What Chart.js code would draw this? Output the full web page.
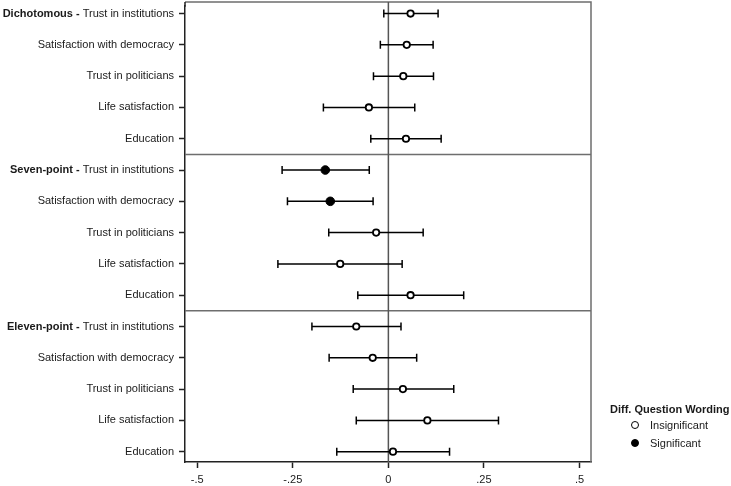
<!DOCTYPE html>
<html>
<head>
<meta charset="utf-8">
<script src="https://cdn.jsdelivr.net/npm/chart.js@4"></script>
<style>
  body { margin: 0; background: #fff; }
  #wrap { position: relative; width: 731px; height: 486px; }
  .leg { position: absolute; font-family: "Liberation Sans", Arial, sans-serif; font-size: 11px; color: #1a1a1a; white-space: nowrap; line-height: 13px; }
  .leg b { font-weight: bold; }
  .dot { position: absolute; width: 6px; height: 6px; border: 1.8px solid #000; border-radius: 50%; }
</style>
</head>
<body>
<div id="wrap">
  <canvas id="chart" width="731" height="486"></canvas>
  <div class="leg" style="left:610px; top:403px;"><b>Diff. Question Wording</b></div>
  <span class="dot" style="left:631px; top:421px; background:#fff;"></span>
  <div class="leg" style="left:650px; top:419px;">Insignificant</div>
  <span class="dot" style="left:631px; top:439px; background:#000;"></span>
  <div class="leg" style="left:650px; top:437px;">Significant</div>
</div>
<script>
// categories and groups (rows top to bottom: group by group)
const groups = ['Dichotomous', 'Seven-point', 'Eleven-point'];
const categories = ['Trust in institutions', 'Satisfaction with democracy', 'Trust in politicians', 'Life satisfaction', 'Education'];

// point estimates and confidence bounds, one per row
const estimates = [0.058, 0.048, 0.039, -0.051, 0.046,
                   -0.165, -0.152, -0.032, -0.126, 0.058,
                   -0.084, -0.041, 0.038, 0.102, 0.012];
const lower = [-0.012, -0.021, -0.039, -0.170, -0.046,
               -0.278, -0.264, -0.156, -0.289, -0.080,
               -0.200, -0.155, -0.092, -0.084, -0.135];
const upper = [0.130, 0.117, 0.118, 0.069, 0.138,
               -0.050, -0.040, 0.091, 0.036, 0.197,
               0.033, 0.074, 0.171, 0.288, 0.160];
const significant = [false, false, false, false, false,
                     true, true, false, false, false,
                     false, false, false, false, false];
const xTicks = [-0.5, -0.25, 0, 0.25, 0.5];

const FONT = '"Liberation Sans", Arial, sans-serif';
const rows = [];
groups.forEach(g => categories.forEach(c => rows.push({ group: g, cat: c })));
const FRAME_TOP = -0.37; // value at the top edge of the frame

// error bars: one line dataset per row, caps drawn as rotated line points
const barSets = rows.map((r, i) => ({
    data: [{ x: lower[i], y: i }, { x: upper[i], y: i }],
    showLine: true,
    borderColor: '#000',
    borderWidth: 1.5,
    pointStyle: 'line',
    rotation: 90,
    pointRadius: 4,
    pointBorderColor: '#000',
    pointBorderWidth: 1.5,
    order: 2
}));

const insig = [], sig = [];
estimates.forEach((v, i) => (significant[i] ? sig : insig).push({ x: v, y: i }));

const framePlugin = {
    id: 'frame',
    beforeDatasetsDraw(chart) {
        const { ctx, chartArea: a, scales } = chart;
        const top = scales.y.getPixelForValue(FRAME_TOP);
        ctx.save();
        ctx.strokeStyle = '#6e6e6e';
        ctx.lineWidth = 1.5;
        // group separators
        [4.5, 9.5].forEach(v => {
            const y = scales.y.getPixelForValue(v);
            ctx.beginPath(); ctx.moveTo(a.left, y); ctx.lineTo(a.right, y); ctx.stroke();
        });
        // top and right frame
        ctx.beginPath();
        ctx.moveTo(a.left, top); ctx.lineTo(a.right, top); ctx.lineTo(a.right, a.bottom);
        ctx.stroke();
        // left axis continued to the top of the frame
        ctx.strokeStyle = '#222';
        ctx.beginPath(); ctx.moveTo(a.left, top); ctx.lineTo(a.left, a.top + 1); ctx.stroke();
        // zero line
        const x0 = scales.x.getPixelForValue(0);
        ctx.strokeStyle = '#555';
        ctx.beginPath(); ctx.moveTo(x0, top); ctx.lineTo(x0, a.bottom); ctx.stroke();
        ctx.restore();
    },
    afterDraw(chart) {
        const { ctx, scales } = chart;
        ctx.save();
        ctx.fillStyle = '#1a1a1a';
        ctx.textAlign = 'right';
        ctx.textBaseline = 'middle';
        const xr = 174;
        rows.forEach((r, i) => {
            const y = scales.y.getPixelForValue(i);
            ctx.font = '11px ' + FONT;
            ctx.fillText(r.cat, xr, y);
            if (i % categories.length === 0) {
                const w = ctx.measureText(r.cat).width;
                ctx.font = 'bold 11px ' + FONT;
                ctx.fillText(r.group + ' - ', xr - w, y);
            }
        });
        ctx.restore();
    }
};

new Chart(document.getElementById('chart'), {
    type: 'scatter',
    data: {
        datasets: [
            { data: insig, pointRadius: 3.2, pointBackgroundColor: '#fff', pointBorderColor: '#000', pointBorderWidth: 1.8, order: 0 },
            { data: sig, pointRadius: 4.3, pointBackgroundColor: '#000', pointBorderColor: '#000', pointBorderWidth: 1, order: 0 },
            ...barSets
        ]
    },
    options: {
        responsive: false,
        animation: false,
        devicePixelRatio: 1,
        layout: { padding: { top: 2, right: 140, left: 0, bottom: 0 } },
        plugins: { legend: { display: false }, tooltip: { enabled: false } },
        scales: {
            x: {
                type: 'linear',
                min: -0.532,
                max: 0.53,
                afterBuildTicks: s => { s.ticks = xTicks.map(v => ({ value: v })); },
                afterFit: s => { s.height = 24; },
                grid: { drawOnChartArea: false, tickLength: 6, tickColor: '#222', tickWidth: 1.5 },
                border: { color: '#222', width: 1.5 },
                ticks: {
                    padding: 5,
                    color: '#1a1a1a',
                    font: { family: FONT, size: 11 },
                    maxRotation: 0,
                    callback: v => v === 0 ? '0' : String(v).replace('0.', '.')
                }
            },
            y: {
                type: 'linear',
                reverse: true,
                min: -0.248,
                max: 14.33,
                afterBuildTicks: s => { s.ticks = rows.map((r, i) => ({ value: i })); },
                afterFit: s => { s.width = 185; },
                grid: { drawOnChartArea: false, tickLength: 6, tickColor: '#222', tickWidth: 1.5 },
                border: { color: '#222', width: 1.5 },
                ticks: { display: false }
            }
        }
    },
    plugins: [framePlugin]
});
</script>
</body>
</html>
